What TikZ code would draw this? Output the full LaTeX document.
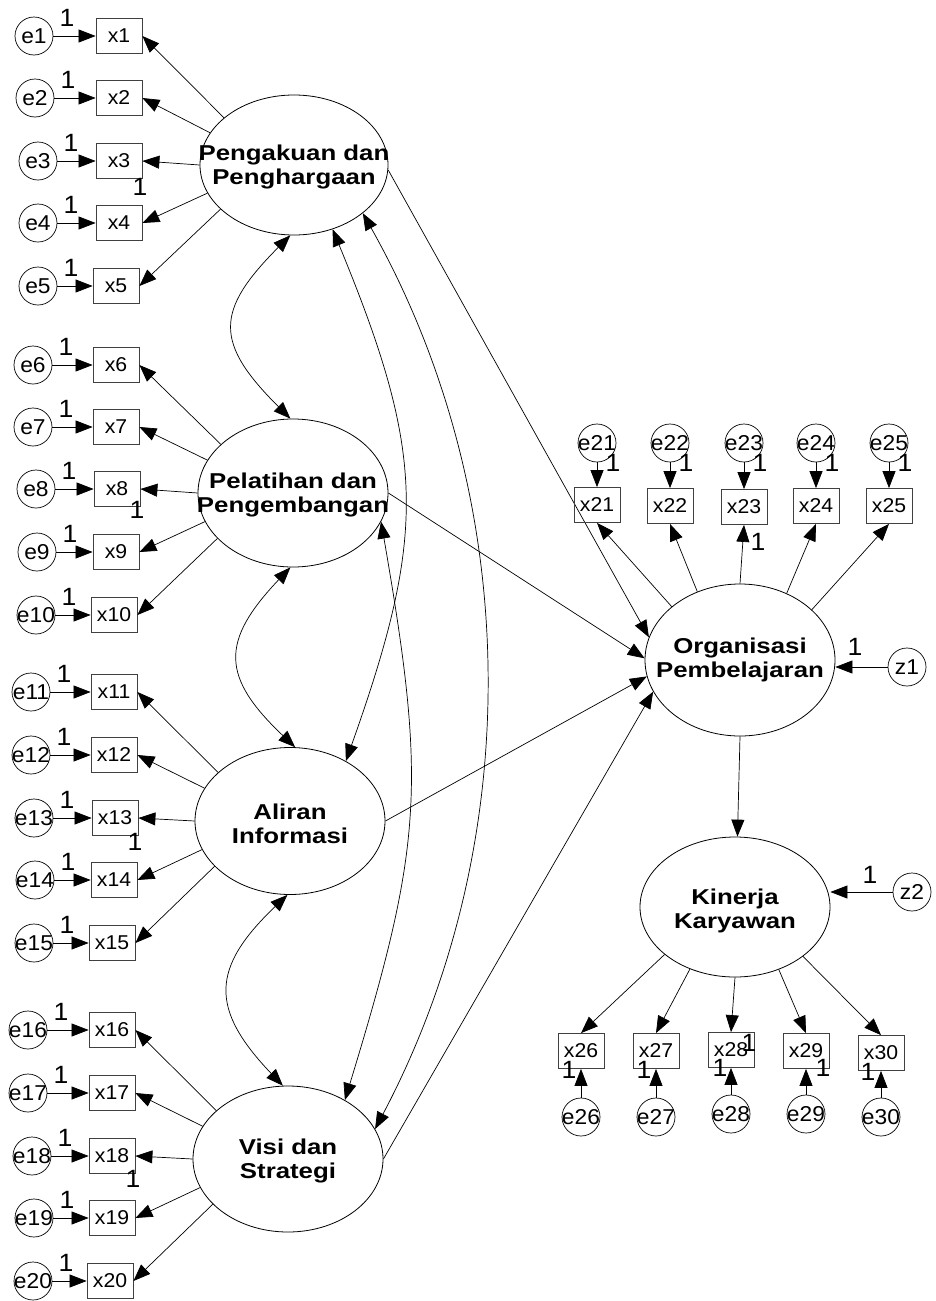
\documentclass[tikz,border=0pt]{standalone}
\usepackage{fontspec}
\setmainfont{Liberation Sans}
\newfontfamily\obsfont{Liberation Sans}[FakeStretch=1.06]
\newfontfamily\latfont{Liberation Sans}[FakeStretch=1.2]
\usetikzlibrary{arrows.meta,shapes.geometric}

\tikzset{
  obs/.style={draw=black!75, line width=0.8pt, minimum width=46pt, minimum height=35pt,
    inner sep=0pt, font=\obsfont\fontsize{20}{20}\selectfont},
  errtxt/.style={inner sep=0pt, font=\obsfont\fontsize{21.5}{21.5}\selectfont},
  err/.style={circle, draw, line width=0.7pt, minimum size=38pt, inner sep=0pt,
    label={[errtxt]center:#1}},
  lat/.style={ellipse, draw, line width=0.8pt, inner sep=0pt},
  lattxt/.style={inner sep=0pt, align=center, font=\latfont\bfseries\fontsize{21.5}{24}\selectfont},
  one/.style={inner sep=0pt, font=\obsfont\fontsize{25}{25}\selectfont},
  arr/.style={line width=0.7pt, -{Triangle[length=17pt,width=13pt]}},
  cov/.style={line width=0.7pt, {Triangle[length=17pt,width=13pt]}-{Triangle[length=17pt,width=13pt]}},
}

\begin{document}
\begin{tikzpicture}[x=1pt,y=1pt]
\fill[white] (0,0) rectangle (936,-1301);
\useasboundingbox (0,0) rectangle (936,-1301);

% exogenous latent factors
\node[lat, minimum width=188pt, minimum height=140pt] (P1) at (294,-165) {};
\node[lattxt] (P1t) at ([yshift=-2pt]P1.center) {Pengakuan dan\\Penghargaan};
\node[lat, minimum width=190pt, minimum height=148pt] (P2) at (293,-493) {};
\node[lattxt] (P2t) at ([yshift=-2pt]P2.center) {Pelatihan dan\\Pengembangan};
\node[lat, minimum width=190pt, minimum height=147pt] (P3) at (290,-821) {};
\node[lattxt] (P3t) at ([yshift=-3pt]P3.center) {Aliran\\Informasi};
\node[lat, minimum width=190pt, minimum height=146pt] (P4) at (288,-1159) {};
\node[lattxt] (P4t) at ([yshift=-2pt]P4.center) {Visi dan\\Strategi};

% endogenous latent factors
\node[lat, minimum width=190pt, minimum height=152pt] (OP) at (740,-660) {};
\node[lattxt] (OPt) at (OP) {Organisasi\\Pembelajaran};
\node[lat, minimum width=190pt, minimum height=140pt] (KK) at (735,-907) {};
\node[lattxt] (KKt) at ([yshift=-4pt]KK.center) {Kinerja\\Karyawan};

% indicators x1..x20 with their error terms
\foreach \i/\ex/\bx/\yy in {
  1/34/119/36, 2/35/119/98, 3/38/119/161, 4/38/119/223, 5/38/116/286,
  6/33/116/365, 7/33/116/427, 8/36/117/489, 9/37/116/552, 10/36/114/615,
  11/31/114/692, 12/31/114/755, 13/34/115/818, 14/35/114/880, 15/34/112/943,
  16/28/112/1030, 17/28/112/1093, 18/32/112/1156, 19/34/112/1218, 20/33/110/1281}
{
  \node[obs] (x\i) at (\bx,-\yy) {x\i};
  \node[err=e\i] (e\i) at (\ex,-\yy) {};
  \draw[arr] (e\i) -- (x\i);
  \node[one] (l\i) at (\ex+33,-\yy+18) {1};
}

% loadings of the four exogenous factors
\foreach \lat/\k in {P1/0, P2/5, P3/10, P4/15} {
  \foreach \a [count=\j] in {146,159,180,198,211} {
    \pgfmathtruncatemacro\n{\k+\j}
    \draw[arr] (\lat.\a) -- (x\n.east);
  }
}
\node[one] (f3) at (140,-187) {1};
\node[one] (f8) at (137,-510) {1};
\node[one] (f13) at (135,-842) {1};
\node[one] (f18) at (133,-1179) {1};

% covariances among exogenous factors
\draw[cov] (P1.267) to[bend right=45, looseness=1.5] (P2.92);
\draw[cov] (P2.268) to[bend right=45, looseness=1.45] (P3.86);
\draw[cov] (P3.268) to[bend right=45, looseness=1.42] (P4.94);
\draw[cov] (P1.301) to[bend left=21, looseness=1.17] (P3.47);
\draw[cov] (P1.325) to[bend left=28.6, looseness=0.91] (P4.19);
\draw[cov] (P2.342) to[bend left=13.4, looseness=1.18] (P4.46);

% structural paths
\draw[arr] (P1.357) -- (OP.166);
\draw[arr] (P2.east) -- (OP.179);
\draw[arr] (P3.east) -- (OP.190);
\draw[arr] (P4.east) -- (OP.200);
\draw[arr] (OP.south) -- (KK.88);

% indicators of Organisasi Pembelajaran
\foreach \i/\bx/\yy in {21/597/505, 22/670/506, 23/744/507, 24/816/506, 25/889/506} {
  \node[obs] (x\i) at (\bx,-\yy) {x\i};
  \node[err=e\i] (e\i) at (\bx,-443) {};
  \draw[arr] (e\i) -- (x\i);
  \node[one] (l\i) at (\bx+16,-463) {1};
}
\draw[arr] (OP.142) -- (x21.south);
\draw[arr] (OP.122) -- (x22.south);
\draw[arr] (OP.90) -- (x23.south);
\draw[arr] (OP.55) -- (x24.south);
\draw[arr] (OP.35.5) -- (x25.south);
\node[one] (f23) at (758,-542) {1};

% indicators of Kinerja Karyawan
\foreach \i/\bx/\yy/\ey in {26/581/1051/1117, 27/656/1051/1117, 28/731/1050/1114, 29/806/1051/1114, 30/881/1053/1117} {
  \node[obs] (x\i) at (\bx,-\yy) {x\i};
  \node[err=e\i] (e\i) at (\bx,-\ey) {};
  \draw[arr] (e\i) -- (x\i);
}
\node[one] (l26) at (569,-1070) {1};
\node[one] (l27) at (644,-1070) {1};
\node[one] (l28) at (720,-1068) {1};
\node[one] (l29) at (823,-1068) {1};
\node[one] (l30) at (868,-1072) {1};
\node[one] (f28) at (749,-1043) {1};
\draw[arr] (KK.214.6) -- (x26.north);
\draw[arr] (KK.234) -- (x27.north);
\draw[arr] (KK.270) -- (x28.north);
\draw[arr] (KK.305) -- (x29.north);
\draw[arr] (KK.324) -- (x30.north);

% disturbances
\node[err=z1] (z1) at (907,-667) {};
\draw[arr] (z1.west) -- (z1.west -| OP.east);
\node[one] (lz1) at (855,-647) {1};
\node[err=z2] (z2) at (912,-892) {};
\draw[arr] (z2.west) -- (z2.west -| KK.east);
\node[one] (lz2) at (870,-875) {1};
\end{tikzpicture}
\end{document}
